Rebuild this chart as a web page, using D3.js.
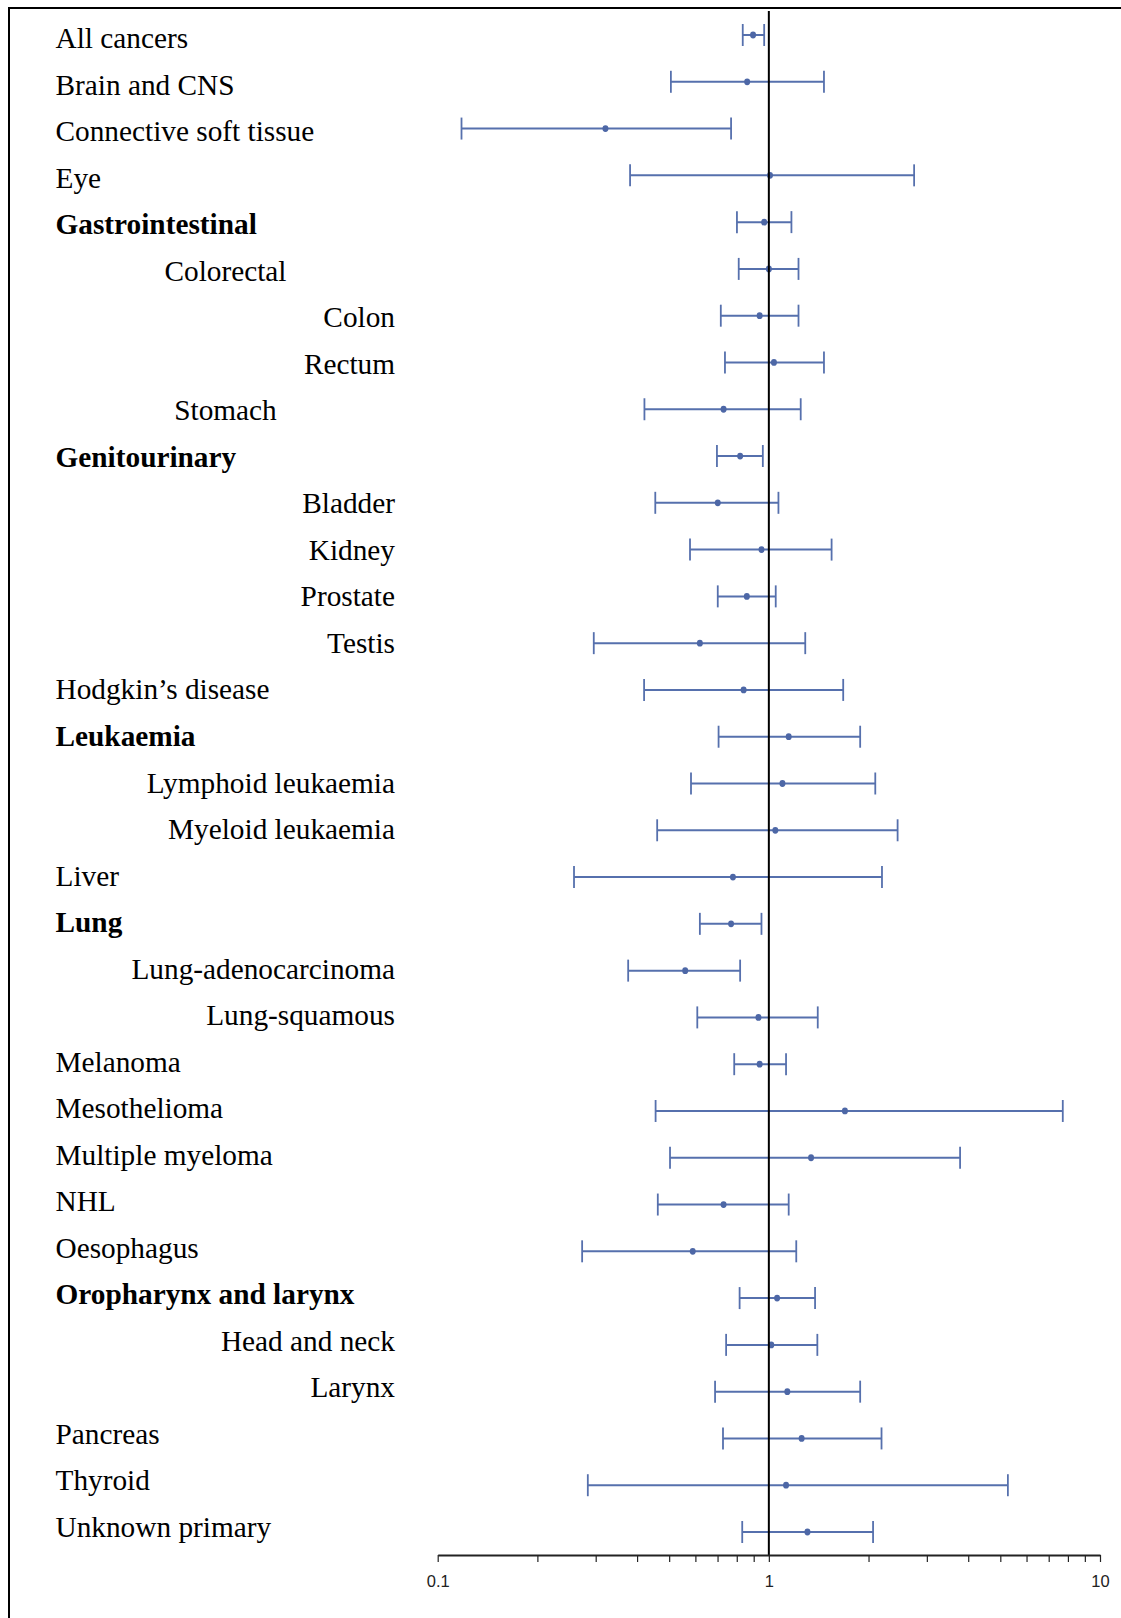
<!DOCTYPE html>
<html>
<head>
<meta charset="utf-8">
<script src="https://cdn.jsdelivr.net/npm/d3@7"></script>
<style>
  html, body { margin: 0; padding: 0; background: #fff; }
  svg { display: block; }
</style>
</head>
<body>
<svg id="chart"></svg>
<script>
// Rows, top to bottom
const labels = [
  "All cancers", "Brain and CNS", "Connective soft tissue", "Eye",
  "Gastrointestinal", "Colorectal", "Colon", "Rectum", "Stomach",
  "Genitourinary", "Bladder", "Kidney", "Prostate", "Testis",
  "Hodgkin’s disease", "Leukaemia", "Lymphoid leukaemia", "Myeloid leukaemia",
  "Liver", "Lung", "Lung-adenocarcinoma", "Lung-squamous",
  "Melanoma", "Mesothelioma", "Multiple myeloma", "NHL", "Oesophagus",
  "Oropharynx and larynx", "Head and neck", "Larynx",
  "Pancreas", "Thyroid", "Unknown primary"
];

// point estimate and 95% CI
const estimate = [
  0.896, 0.86, 0.321, 1.008,
  0.968, 1.0, 0.938, 1.036, 0.730,
  0.819, 0.701, 0.950, 0.858, 0.619,
  0.839, 1.148, 1.099, 1.046,
  0.779, 0.769, 0.559, 0.930,
  0.938, 1.697, 1.341, 0.730, 0.589,
  1.059, 1.017, 1.137,
  1.256, 1.127, 1.308
];
const lower = [
  0.834, 0.506, 0.118, 0.381,
  0.801, 0.811, 0.716, 0.737, 0.421,
  0.697, 0.454, 0.578, 0.701, 0.296,
  0.420, 0.705, 0.582, 0.460,
  0.258, 0.619, 0.376, 0.608,
  0.786, 0.455, 0.503, 0.462, 0.273,
  0.816, 0.743, 0.688,
  0.727, 0.284, 0.831
];
const upper = [
  0.968, 1.467, 0.769, 2.746,
  1.170, 1.229, 1.229, 1.467, 1.248,
  0.959, 1.069, 1.547, 1.049, 1.288,
  1.677, 1.887, 2.096, 2.448,
  2.196, 0.950, 0.819, 1.405,
  1.127, 7.72, 3.78, 1.148, 1.210,
  1.379, 1.401, 1.887,
  2.189, 5.27, 2.064
];

const boldLabels = ["Gastrointestinal", "Genitourinary", "Leukaemia", "Lung", "Oropharynx and larynx"];
const centredLabels = ["Colorectal", "Stomach"];
const subLabels = ["Colon", "Rectum", "Bladder", "Kidney", "Prostate", "Testis",
  "Lymphoid leukaemia", "Myeloid leukaemia", "Lung-adenocarcinoma", "Lung-squamous",
  "Head and neck", "Larynx"];

const axisTicks = [0.1, 0.2, 0.3, 0.4, 0.5, 0.6, 0.7, 0.8, 0.9,
  1, 2, 3, 4, 5, 6, 7, 8, 9, 10];
const axisLabels = [0.1, 1, 10];

const W = 1121, H = 1618;
const blue = "#5670ad";

const svg = d3.select("#chart").attr("width", W).attr("height", H);

// frame
svg.append("rect")
  .attr("x", 9).attr("y", 8)
  .attr("width", W + 10).attr("height", H + 10)
  .attr("fill", "none").attr("stroke", "#000").attr("stroke-width", 2);

const x = d3.scaleLog().domain([0.1, 10]).range([437.7, 1100]);
const y = d3.scalePoint().domain(labels).range([35, 1532]);
// text baselines are spaced a touch tighter than the bars
const yText = d3.scalePoint().domain(labels).range([48, 1537]);
const axisY = 1555;

const data = labels.map((name, i) => ({
  name, est: estimate[i], lo: lower[i], hi: upper[i]
}));

// labels
svg.append("g").selectAll("text")
  .data(data)
  .join("text")
  .attr("x", d => subLabels.includes(d.name) ? 395 : centredLabels.includes(d.name) ? 225.5 : 55.5)
  .attr("y", d => yText(d.name))
  .attr("text-anchor", d => subLabels.includes(d.name) ? "end" : centredLabels.includes(d.name) ? "middle" : "start")
  .attr("font-family", "'Liberation Serif', 'Times New Roman', serif")
  .attr("font-size", 29.3)
  .attr("font-weight", d => boldLabels.includes(d.name) ? "bold" : "normal")
  .attr("fill", "#000")
  .text(d => d.name);

// error bars
const bars = svg.append("g").selectAll("g")
  .data(data)
  .join("g")
  .attr("transform", d => `translate(0,${y(d.name)})`);

bars.append("line")
  .attr("x1", d => x(d.lo)).attr("x2", d => x(d.hi))
  .attr("stroke", blue).attr("stroke-width", 2);

bars.selectAll(".cap")
  .data(d => [d.lo, d.hi])
  .join("line")
  .attr("class", "cap")
  .attr("x1", v => x(v)).attr("x2", v => x(v))
  .attr("y1", -11).attr("y2", 11)
  .attr("stroke", blue).attr("stroke-width", 1.8);

// reference line at 1
svg.append("line")
  .attr("x1", x(1)).attr("x2", x(1))
  .attr("y1", 11).attr("y2", axisY)
  .attr("stroke", "#000").attr("stroke-width", 2);

bars.append("ellipse")
  .attr("cx", d => x(d.est))
  .attr("rx", 3).attr("ry", 3.4)
  .attr("fill", "#4d67a6");

// axis
const axis = svg.append("g")
  .attr("transform", `translate(0,${axisY})`)
  .call(d3.axisBottom(x)
    .tickValues(axisTicks)
    .tickSize(7)
    .tickSizeOuter(0)
    .tickFormat(d => axisLabels.includes(d) ? d3.format("~g")(d) : ""));

axis.select(".domain").attr("stroke", "#222").attr("stroke-width", 2);
axis.selectAll(".tick line").attr("stroke", "#222").attr("stroke-width", 1.2);
axis.selectAll(".tick text")
  .attr("y", 20)
  .attr("font-family", "'Liberation Sans Narrow', 'Arial Narrow', 'Liberation Sans', sans-serif")
  .attr("font-size", 16.5)
  .attr("fill", "#222");
</script>
</body>
</html>
